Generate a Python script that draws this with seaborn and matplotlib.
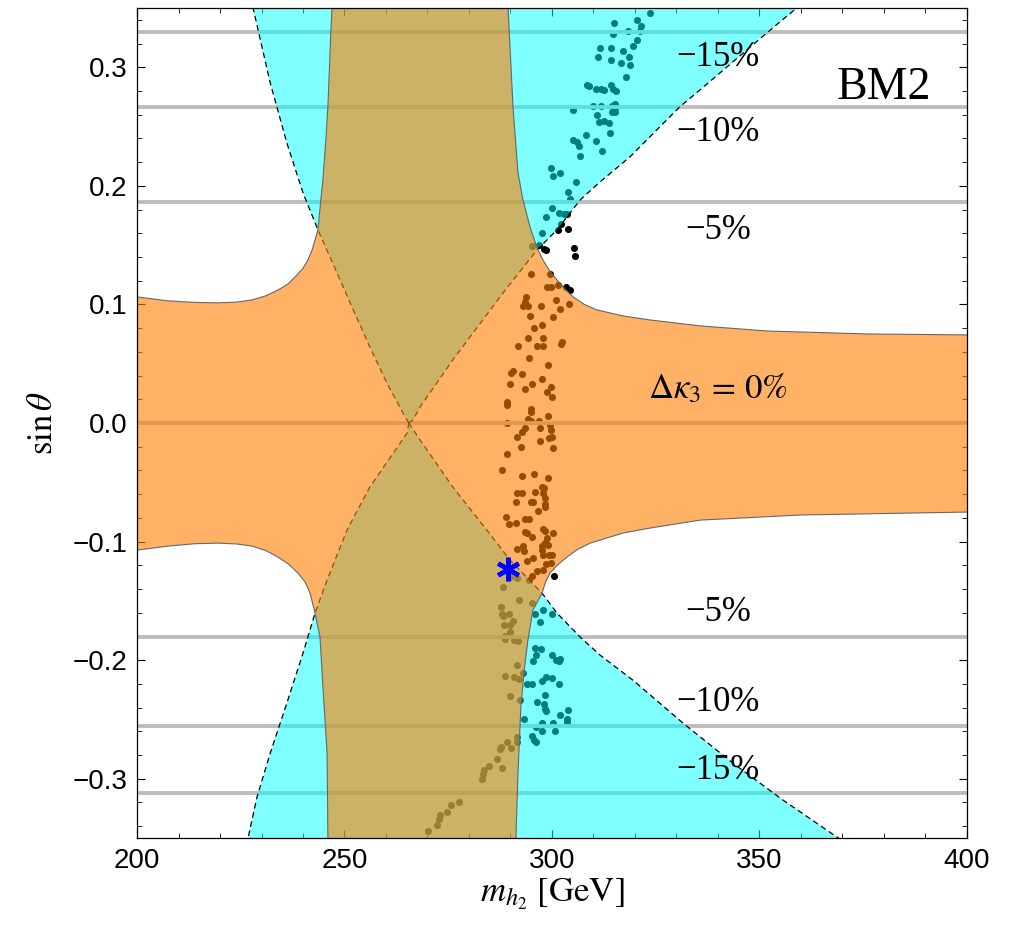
import matplotlib
matplotlib.use("Agg")
import matplotlib.pyplot as plt
import numpy as np
import pandas as pd
import seaborn as sns
from matplotlib.ticker import MultipleLocator, FuncFormatter

# ---------------- boundary curves ----------------
# orange region (solid boundary): upper-left branch, from left edge up to top edge
orange_ul_m = [200.0, 207.5, 214.0, 219.5, 224.0, 227.7, 231.0, 234.0, 236.3, 238.1, 239.9, 241.2, 242.2, 242.9,
               243.6, 244.3, 244.8, 245.5, 246.0, 246.7, 247.0]
orange_ul_s = [0.1063, 0.1030, 0.1017, 0.1013, 0.1020, 0.1038, 0.1072, 0.1122, 0.1170, 0.1232, 0.1300, 0.1376, 0.1460, 0.1544,
               0.1629, 0.1882, 0.2051, 0.2388, 0.2667, 0.3291, 0.351]
# upper-right branch, from top edge to right edge
orange_ur_m = [289.4, 290.6, 291.8, 293.0, 294.7, 296.4, 297.8, 299.4, 301.2, 303.1, 305.1, 307.8, 310.8, 317.1,
               323.6, 335.7, 351.8, 375.9, 400.0]
orange_ur_s = [0.351, 0.2667, 0.2110, 0.1882, 0.1654, 0.1477, 0.1376, 0.1285, 0.1207, 0.1130, 0.1063, 0.1000, 0.0954, 0.0903,
               0.0869, 0.0819, 0.0776, 0.0751, 0.0743]
# lower-right branch, from right edge to bottom edge
orange_lr_m = [400.0, 359.8, 335.7, 323.6, 317.1, 309.2, 306.2, 303.6, 301.4, 299.5, 298.4, 297.6, 295.4, 294.2,
               293.3, 292.5, 291.8, 291.3]
orange_lr_s = [-0.0751, -0.0776, -0.0819, -0.0886, -0.0928, -0.1013, -0.1065, -0.1131, -0.1195, -0.1266, -0.1345, -0.1435, -0.1578, -0.1831,
               -0.2084, -0.2397, -0.2954, -0.351]
# lower-left branch, from bottom edge to left edge
orange_ll_m = [246.0, 245.8, 244.8, 244.1, 242.9, 242.3, 241.7, 240.5, 238.8, 236.5, 234.0, 231.0, 227.7, 224.0,
               219.5, 214.0, 207.5, 200.0]
orange_ll_s = [-0.351, -0.2785, -0.2228, -0.1806, -0.1603, -0.1520, -0.1435, -0.1340, -0.1266, -0.1190, -0.1131, -0.1075, -0.1038, -0.1020,
               -0.1013, -0.1018, -0.1038, -0.1072]

# cyan region (dashed boundary)
cyan_ul_m = [227.9, 232.1, 236.1, 240.0, 243.6, 248.2, 252.1, 256.1, 260.2, 264.1, 265.5]
cyan_ul_s = [0.351, 0.2869, 0.2363, 0.1941, 0.1629, 0.1266, 0.0954, 0.0641, 0.0338, 0.0084, 0.0]
cyan_ur_m = [265.5, 266.5, 268.2, 276.1, 288.2, 296.4, 301.2, 306.8, 311.6, 318.8, 330.8, 335.7, 351.8, 359.3]
cyan_ur_s = [0.0, 0.0025, 0.0135, 0.0532, 0.1097, 0.1460, 0.1629, 0.1882, 0.2034, 0.2245, 0.2667, 0.2810, 0.3291, 0.351]
cyan_ll_m = [265.5, 265.1, 256.1, 250.6, 245.8, 242.9, 240.0, 236.1, 232.1, 228.9, 226.7]
cyan_ll_s = [0.0, -0.0084, -0.0540, -0.0903, -0.1325, -0.1603, -0.1941, -0.2363, -0.2785, -0.3156, -0.351]
cyan_lr_m = [265.5, 268.2, 276.1, 284.3, 289.9, 297.6, 301.2, 306.8, 311.6, 319.5, 331.6, 343.6, 355.7, 369.4]
cyan_lr_s = [0.0, -0.0143, -0.0540, -0.0903, -0.1156, -0.1435, -0.1603, -0.1806, -0.1958, -0.2169, -0.2532, -0.2869, -0.3181, -0.351]

# Delta kappa_3 contour lines (horizontal)
kappa_levels = [0.330, 0.2667, 0.1865, 0.0, -0.1806, -0.2557, -0.3122]
kappa_texts = ["\u221215%", "\u221210%", "\u22125%", r"$\Delta\kappa_3\,=\,0\%$", "\u22125%", "\u221210%", "\u221215%"]
kappa_text_s = [0.308, 0.245, 0.162, 0.028, -0.160, -0.236, -0.293]
kappa_text_m = 340.0

# ---------------- scan points ----------------
pts_upper_m = [323.6, 315.0, 320.4, 321.5, 321.3, 318.4, 314.7, 320.5, 319.6, 311.5, 314.3, 317.2, 311.0, 318.6,
               314.1, 316.7, 318.7, 317.8, 308.4, 309.0, 310.6, 311.7, 312.5, 314.2, 314.8, 315.4, 305.1, 310.0,
               311.9, 314.5, 315.2, 315.3, 314.5, 315.2, 310.8, 311.3, 312.6, 313.8, 314.0, 308.2, 310.5, 305.0,
               306.0, 306.6, 312.1, 306.7, 299.8, 301.9, 300.2, 305.9, 303.9, 304.3, 299.9, 301.7, 302.9, 303.7,
               298.5, 302.2, 297.6, 296.8, 295.3]
pts_upper_s = [0.346, 0.337, 0.340, 0.335, 0.331, 0.331, 0.328, 0.323, 0.318, 0.316, 0.316, 0.314, 0.309, 0.309,
               0.306, 0.304, 0.302, 0.292, 0.285, 0.284, 0.282, 0.282, 0.281, 0.285, 0.282, 0.280, 0.264, 0.267,
               0.267, 0.267, 0.269, 0.266, 0.262, 0.262, 0.260, 0.254, 0.255, 0.253, 0.245, 0.243, 0.238, 0.239,
               0.237, 0.234, 0.229, 0.225, 0.215, 0.211, 0.208, 0.203, 0.195, 0.189, 0.181, 0.177, 0.176, 0.176,
               0.174, 0.168, 0.160, 0.150, 0.149]

pts_out_m = [301.5, 303.9, 298.1, 298.5, 305.4, 305.6, 299.6, 301.4, 303.3, 304.3, 300.4]
pts_out_s = [0.163, 0.164, 0.147, 0.146, 0.148, 0.141, 0.126, 0.116, 0.115, 0.112, -0.129]

pts_mid_m = [294.9, 298.7, 299.8, 293.7, 293.4, 292.9, 294.3, 297.4, 301.0, 304.1, 301.9, 294.7, 300.3, 297.5,
             295.7, 294.1, 297.9, 291.9, 296.3, 297.9, 302.5, 302.2, 294.5, 299.0, 290.6, 290.2, 292.8, 297.5,
             295.2, 289.9, 293.4, 299.7, 298.9, 300.0, 289.1, 289.2, 294.9, 295.0, 299.0, 294.1, 295.0, 296.8,
             289.1, 299.5, 293.5, 297.1, 299.8, 292.8, 291.5, 299.9, 299.3, 297.1, 292.5, 300.2, 289.2, 288.0,
             292.8, 295.7, 299.1, 297.5, 298.1, 291.5, 292.8, 295.9, 297.9, 298.2, 291.3, 295.0, 295.5, 298.3,
             298.4, 296.6, 288.8, 293.4, 294.5, 289.7, 291.3, 297.9, 298.3, 300.2, 293.4, 293.9, 295.3, 298.7,
             298.3, 297.7, 299.1, 291.6, 292.9, 293.3, 297.5, 299.3, 300.1, 297.9, 295.5, 293.9, 299.8, 298.6,
             296.3, 297.8, 295.1, 294.5]
pts_mid_s = [0.126, 0.115, 0.115, 0.106, 0.102, 0.099, 0.099, 0.099, 0.104, 0.100, 0.096, 0.090, 0.089, 0.083,
             0.080, 0.072, 0.072, 0.065, 0.065, 0.065, 0.068, 0.067, 0.055, 0.049, 0.044, 0.042, 0.041, 0.037,
             0.033, 0.033, 0.029, 0.030, 0.026, 0.022, 0.018, 0.015, 0.012, 0.009, 0.006, 0.003, 0.002, 0.002,
             0.000, -0.002, -0.004, -0.004, -0.006, -0.008, -0.012, -0.012, -0.013, -0.015, -0.020, -0.021, -0.026, -0.040,
             -0.045, -0.043, -0.046, -0.054, -0.055, -0.059, -0.059, -0.058, -0.059, -0.063, -0.067, -0.067, -0.067, -0.068,
             -0.071, -0.074, -0.079, -0.081, -0.081, -0.085, -0.084, -0.089, -0.091, -0.093, -0.092, -0.093, -0.096, -0.097,
             -0.101, -0.104, -0.103, -0.106, -0.104, -0.108, -0.107, -0.111, -0.111, -0.111, -0.114, -0.116, -0.118, -0.119,
             -0.125, -0.124, -0.129, -0.132]

pts_band_m = [289.9, 291.5, 288.3, 292.0, 295.1, 287.6, 287.9, 289.7, 288.3, 290.7, 288.5, 289.9, 289.9, 288.7,
              288.7, 290.9, 291.9, 291.6, 288.7, 290.9, 292.0, 292.9, 289.9, 292.4, 291.6, 291.5, 289.1, 287.7,
              287.5, 290.1, 286.7, 284.8, 287.9, 283.6, 283.3, 283.1, 277.7, 275.7, 274.8, 273.0, 272.8, 272.4, 270.2]
pts_band_s = [-0.130, -0.131, -0.138, -0.149, -0.152, -0.155, -0.161, -0.161, -0.163, -0.167, -0.170, -0.170, -0.176, -0.180,
              -0.182, -0.183, -0.184, -0.204, -0.213, -0.214, -0.216, -0.211, -0.230, -0.234, -0.265, -0.269, -0.269, -0.273,
              -0.275, -0.274, -0.283, -0.289, -0.291, -0.293, -0.296, -0.300, -0.320, -0.322, -0.328, -0.331, -0.334, -0.339, -0.344]

pts_lower_m = [295.9, 297.8, 300.0, 297.1, 295.9, 297.4, 296.1, 295.5, 300.0, 301.0, 301.9, 301.8, 298.6, 300.1,
               297.5, 301.8, 293.9, 295.1, 298.4, 296.3, 298.1, 298.3, 298.5, 301.9, 303.9, 303.5, 303.5, 293.3,
               297.5, 300.2, 296.1, 297.5, 300.8, 295.1, 295.7, 296.1]
pts_lower_s = [-0.161, -0.158, -0.161, -0.168, -0.190, -0.191, -0.196, -0.201, -0.196, -0.200, -0.199, -0.201, -0.214, -0.215,
               -0.218, -0.220, -0.220, -0.220, -0.229, -0.235, -0.237, -0.241, -0.243, -0.246, -0.242, -0.250, -0.252, -0.250,
               -0.253, -0.253, -0.256, -0.260, -0.260, -0.264, -0.267, -0.269]

bm_m, bm_s = [289.5], [-0.123]

# ---------------- styling ----------------
sns.set_theme(style="white")
plt.rcParams["font.family"] = ["Liberation Sans", "DejaVu Sans"]
plt.rcParams["mathtext.fontset"] = "stix"
plt.rcParams["text.color"] = "black"
plt.rcParams["axes.labelcolor"] = "black"
plt.rcParams["xtick.color"] = "black"
plt.rcParams["ytick.color"] = "black"

fig = plt.figure(figsize=(10.12, 9.35), dpi=100)
ax = fig.add_axes([137 / 1012, 1 - 838 / 935, 830 / 1012, 830 / 935])

pts = pd.DataFrame({
    "m": pts_upper_m + pts_out_m + pts_mid_m + pts_band_m + pts_lower_m,
    "s": pts_upper_s + pts_out_s + pts_mid_s + pts_band_s + pts_lower_s,
})
sns.scatterplot(data=pts, x="m", y="s", color="black", s=26, linewidth=0, zorder=1, ax=ax, legend=False)

for lv in kappa_levels:
    ax.axhline(lv, color="#bdbdbd", lw=2.8, zorder=1.5)

# cyan region
top_m = cyan_ul_m + cyan_ur_m
top_s = cyan_ul_s + cyan_ur_s
bot_m = cyan_ll_m[::-1] + cyan_lr_m
bot_s = cyan_ll_s[::-1] + cyan_lr_s
ax.fill(top_m, top_s, color=(0, 1, 1), alpha=0.5, lw=0, zorder=2)
ax.fill(bot_m, bot_s, color=(0, 1, 1), alpha=0.5, lw=0, zorder=2)
for mm, ss in [(cyan_ul_m, cyan_ul_s), (cyan_ur_m, cyan_ur_s), (cyan_ll_m, cyan_ll_s), (cyan_lr_m, cyan_lr_s)]:
    ax.plot(mm, ss, color="black", lw=0.9, ls=(0, (4.5, 3)), zorder=2.5)

# orange region
om = orange_ul_m + orange_ur_m + orange_lr_m + orange_ll_m
os_ = orange_ul_s + orange_ur_s + orange_lr_s + orange_ll_s
ax.fill(om, os_, color=(1, 0.5, 0), alpha=0.6, lw=0, zorder=3)
for mm, ss in [(orange_ul_m, orange_ul_s), (orange_ur_m, orange_ur_s), (orange_lr_m, orange_lr_s), (orange_ll_m, orange_ll_s)]:
    ax.plot(mm, ss, color="#666666", lw=0.8, zorder=3.5)

# benchmark point
ax.plot(bm_m, bm_s, ls="none", marker=(6, 2, 0), ms=17, mew=3.2, color="#0000ff", zorder=6)

# texts
for txt, yy in zip(kappa_texts, kappa_text_s):
    ax.text(kappa_text_m, yy, txt, ha="center", va="center", fontsize=25,
            family=["Liberation Serif", "DejaVu Serif"], color="black", zorder=5)
ax.text(380.0, 0.283, "BM2", ha="center", va="center", fontsize=33,
        family=["Liberation Serif", "DejaVu Serif"], color="black", zorder=5)

ax.set_xlim(200, 400)
ax.set_ylim(-0.35, 0.35)
ax.xaxis.set_major_locator(MultipleLocator(50))
ax.xaxis.set_minor_locator(MultipleLocator(10))
ax.yaxis.set_major_locator(MultipleLocator(0.1))
ax.yaxis.set_minor_locator(MultipleLocator(0.02))
ax.yaxis.set_major_formatter(FuncFormatter(lambda v, p: f"{v:.1f}".replace("-0.0", "0.0").replace("-", "\u2212")))
ax.xaxis.set_major_formatter(FuncFormatter(lambda v, p: f"{v:.0f}"))
ax.tick_params(which="both", direction="in", top=True, right=True, bottom=True, left=True,
               color="black", labelcolor="black")
ax.tick_params(which="major", length=6, width=0.8, labelsize=20, pad=7)
ax.tick_params(which="minor", length=3.5, width=0.6)
for sp in ax.spines.values():
    sp.set_color("black")
    sp.set_linewidth(0.9)
    sp.set_zorder(10)

ax.set_xlabel(r"$m_{h_2}\ [\mathrm{GeV}]$", fontsize=25, labelpad=2, color="black")
ax.set_ylabel(r"$\sin\theta$", fontsize=25, labelpad=10, color="black")

fig.savefig("out.png", dpi=100)
